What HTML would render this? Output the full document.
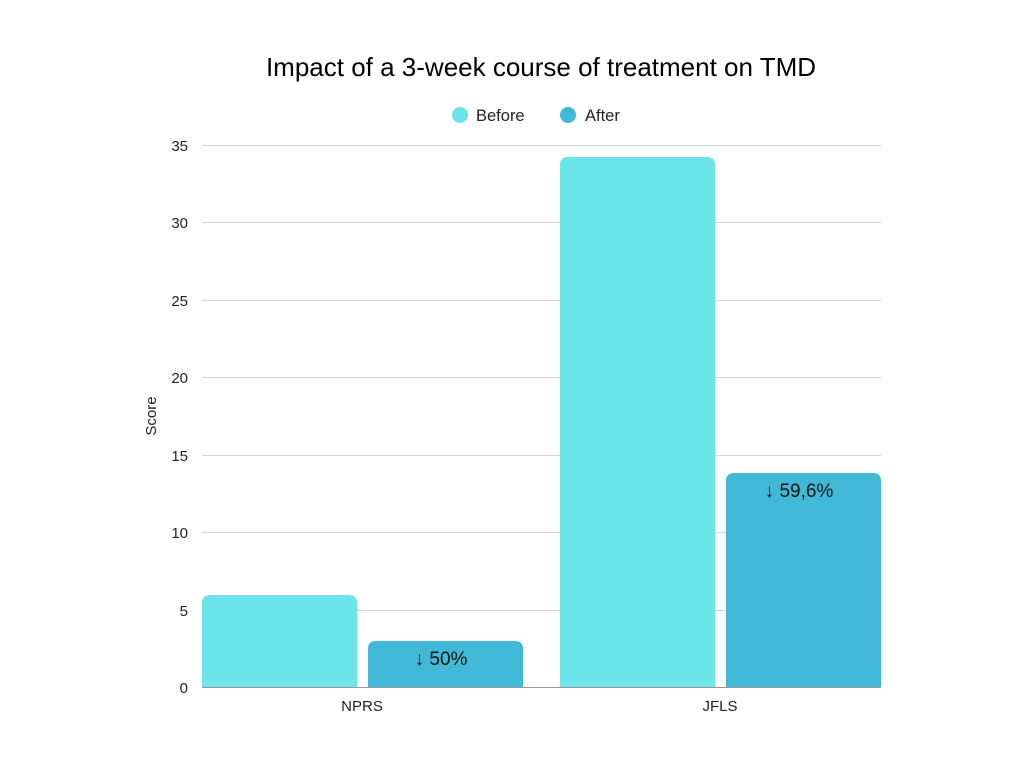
<!DOCTYPE html>
<html><head><meta charset="utf-8"><style>
body{margin:0;background:#fff;}
svg text{font-family:"Liberation Sans",Arial,sans-serif;}
</style></head><body>
<svg width="1024" height="768" xmlns="http://www.w3.org/2000/svg">
<rect width="1024" height="768" fill="#fff"/>
<text x="541" y="76" font-size="26" text-anchor="middle" fill="#000">Impact of a 3-week course of treatment on TMD</text>
<circle cx="460" cy="115" r="8" fill="#6CE5E8"/>
<text x="476" y="121" font-size="16.5" fill="#222">Before</text>
<circle cx="568" cy="115" r="8" fill="#41B8D5"/>
<text x="585" y="121" font-size="16.5" fill="#222">After</text>
<g stroke="#d6d6d6" stroke-width="1">
<line x1="202" x2="881" y1="145.5" y2="145.5"/>
<line x1="202" x2="881" y1="222.5" y2="222.5"/>
<line x1="202" x2="881" y1="300.5" y2="300.5"/>
<line x1="202" x2="881" y1="377.5" y2="377.5"/>
<line x1="202" x2="881" y1="455.5" y2="455.5"/>
<line x1="202" x2="881" y1="532.5" y2="532.5"/>
<line x1="202" x2="881" y1="610.5" y2="610.5"/>
</g>
<g font-size="15" text-anchor="end" fill="#222">
<text x="188" y="151">35</text><text x="188" y="228">30</text><text x="188" y="306">25</text>
<text x="188" y="383">20</text><text x="188" y="461">15</text><text x="188" y="538">10</text>
<text x="188" y="616">5</text><text x="188" y="693">0</text>
</g>
<text transform="translate(156,416) rotate(-90)" font-size="15" text-anchor="middle" fill="#222">Score</text>
<path d="M202,687 V603 Q202,595 210,595 H349 Q357,595 357,603 V687 Z" fill="#6CE5E8"/>
<path d="M368,687 V649 Q368,641 376,641 H515 Q523,641 523,649 V687 Z" fill="#41B8D5"/>
<path d="M560,687 V165 Q560,157 568,157 H707 Q715,157 715,165 V687 Z" fill="#6CE5E8"/>
<path d="M726,687 V481 Q726,473 734,473 H873 Q881,473 881,481 V687 Z" fill="#41B8D5"/>
<line x1="202" x2="881" y1="687.5" y2="687.5" stroke="#999" stroke-width="1"/>
<text x="441" y="665" font-size="19" text-anchor="middle" fill="#111">↓ 50%</text>
<text x="799" y="497" font-size="19" text-anchor="middle" fill="#111">↓ 59,6%</text>
<text x="362" y="711" font-size="15" text-anchor="middle" fill="#222">NPRS</text>
<text x="720" y="711" font-size="15" text-anchor="middle" fill="#222">JFLS</text>
</svg>
</body></html>
